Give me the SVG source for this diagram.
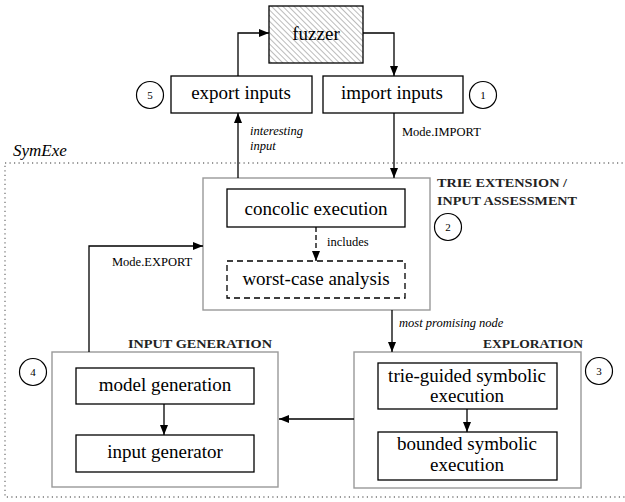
<svg xmlns="http://www.w3.org/2000/svg" width="625" height="502" viewBox="0 0 625 502">
<style>
  .box { fill: #fff; stroke: #000; stroke-width: 1.3; }
  .gbox { fill: #fff; stroke: #999; stroke-width: 1.4; }
  .dbox { fill: #fff; stroke: #000; stroke-width: 1.3; stroke-dasharray: 6 4; }
  .t { font-family: "Liberation Serif", "DejaVu Serif", serif; font-size: 19px; fill: #000; text-anchor: middle; }
  .s { font-family: "Liberation Serif", "DejaVu Serif", serif; font-size: 12.5px; fill: #000; }
  .i { font-family: "Liberation Serif", "DejaVu Serif", serif; font-size: 12.5px; font-style: italic; fill: #000; }
  .sec { font-family: "Liberation Serif", "DejaVu Serif", serif; font-size: 12px; font-weight: bold; fill: #222; }
  .num { font-family: "Liberation Serif", "DejaVu Serif", serif; font-size: 11px; fill: #000; text-anchor: middle; }
  .circ { fill: #fff; stroke: #000; stroke-width: 1.2; }
  .c { fill: none; stroke: #000; stroke-width: 1.3; }
</style>
<defs>
  <marker id="ah" markerUnits="userSpaceOnUse" markerWidth="10" markerHeight="8" refX="10" refY="4" orient="auto">
    <path d="M0,0 L10,4 L0,8 z" fill="#000"/>
  </marker>
  <pattern id="hatch" patternUnits="userSpaceOnUse" width="4" height="4" patternTransform="rotate(45)">
    <rect width="4" height="4" fill="#fff"/>
    <line x1="0" y1="0" x2="4" y2="0" stroke="#555" stroke-width="0.8"/>
  </pattern>
</defs>

<g id="symexe-region">
  <rect x="5" y="163" width="640" height="334" fill="none" stroke="#777" stroke-width="1.3" stroke-dasharray="1.2 3.3"/>
  <text x="13" y="156" font-family="'Liberation Serif', 'DejaVu Serif', serif" font-size="17" font-style="italic">SymExe</text>
</g>

<g id="fuzzer">
  <rect x="269" y="6" width="94" height="57" fill="url(#hatch)" stroke="#000" stroke-width="1.3"/>
  <text class="t" x="316" y="40">fuzzer</text>
</g>

<g id="export-inputs">
  <rect class="box" x="171" y="76" width="141" height="37"/>
  <text class="t" x="241" y="99">export inputs</text>
  <circle class="circ" cx="150" cy="95" r="13.5"/>
  <text class="num" x="150" y="99">5</text>
</g>

<g id="import-inputs">
  <rect class="box" x="323" y="76" width="140" height="37"/>
  <text class="t" x="392" y="99">import inputs</text>
  <circle class="circ" cx="483" cy="95" r="13.5"/>
  <text class="num" x="483" y="99">1</text>
</g>

<g id="trie-extension">
  <rect class="gbox" x="203" y="178" width="227" height="132"/>
  <text class="sec" x="437" y="187" textLength="130" lengthAdjust="spacingAndGlyphs">TRIE EXTENSION /</text>
  <text class="sec" x="437" y="205" textLength="140" lengthAdjust="spacingAndGlyphs">INPUT ASSESSMENT</text>
  <circle class="circ" cx="448" cy="227" r="13.5"/>
  <text class="num" x="448" y="231">2</text>
</g>

<g id="concolic-execution">
  <rect class="box" x="227" y="189" width="178" height="38"/>
  <text class="t" x="316" y="215">concolic execution</text>
</g>

<g id="worst-case-analysis">
  <rect class="dbox" x="227" y="261" width="178" height="37"/>
  <text class="t" x="316" y="285">worst-case analysis</text>
</g>

<g id="input-generation">
  <rect class="gbox" x="52" y="352" width="226" height="135"/>
  <text class="sec" x="128" y="348" textLength="144" lengthAdjust="spacingAndGlyphs">INPUT GENERATION</text>
  <circle class="circ" cx="33" cy="372" r="13.5"/>
  <text class="num" x="33" y="376">4</text>
</g>

<g id="model-generation">
  <rect class="box" x="76" y="368" width="178" height="36"/>
  <text class="t" x="165" y="391">model generation</text>
</g>

<g id="input-generator">
  <rect class="box" x="76" y="435" width="178" height="37"/>
  <text class="t" x="165" y="458">input generator</text>
</g>

<g id="exploration">
  <rect class="gbox" x="354" y="352" width="227" height="136"/>
  <text class="sec" x="483" y="348" textLength="100" lengthAdjust="spacingAndGlyphs">EXPLORATION</text>
  <circle class="circ" cx="599" cy="371" r="13.5"/>
  <text class="num" x="599" y="375">3</text>
</g>

<g id="trie-guided">
  <rect class="box" x="378" y="363" width="179" height="46"/>
  <text class="t" x="467" y="382">trie-guided symbolic</text>
  <text class="t" x="467" y="402">execution</text>
</g>

<g id="bounded">
  <rect class="box" x="378" y="432" width="179" height="48"/>
  <text class="t" x="467" y="450">bounded symbolic</text>
  <text class="t" x="467" y="471">execution</text>
</g>

<g id="connectors">
  <path class="c" d="M238,76 V33 H269" marker-end="url(#ah)"/>
  <path class="c" d="M363,33 H394 V76" marker-end="url(#ah)"/>
  <path class="c" d="M238,178 V113" marker-end="url(#ah)"/>
  <text class="i" x="250" y="135">interesting</text>
  <text class="i" x="250" y="150">input</text>
  <path class="c" d="M394,113 V178" marker-end="url(#ah)"/>
  <text class="s" x="402" y="136">Mode.IMPORT</text>
  <path class="c" d="M316,227 V261" stroke-dasharray="5 3" marker-end="url(#ah)"/>
  <text class="s" x="327" y="246">includes</text>
  <path class="c" d="M392,310 V352" marker-end="url(#ah)"/>
  <text class="i" x="399" y="327">most promising node</text>
  <path class="c" d="M354,419 H279" marker-end="url(#ah)"/>
  <path class="c" d="M89,352 V246 H203" marker-end="url(#ah)"/>
  <text class="s" x="112" y="266">Mode.EXPORT</text>
  <path class="c" d="M164,404 V435" marker-end="url(#ah)"/>
  <path class="c" d="M467,409 V432" marker-end="url(#ah)"/>
</g>
</svg>
